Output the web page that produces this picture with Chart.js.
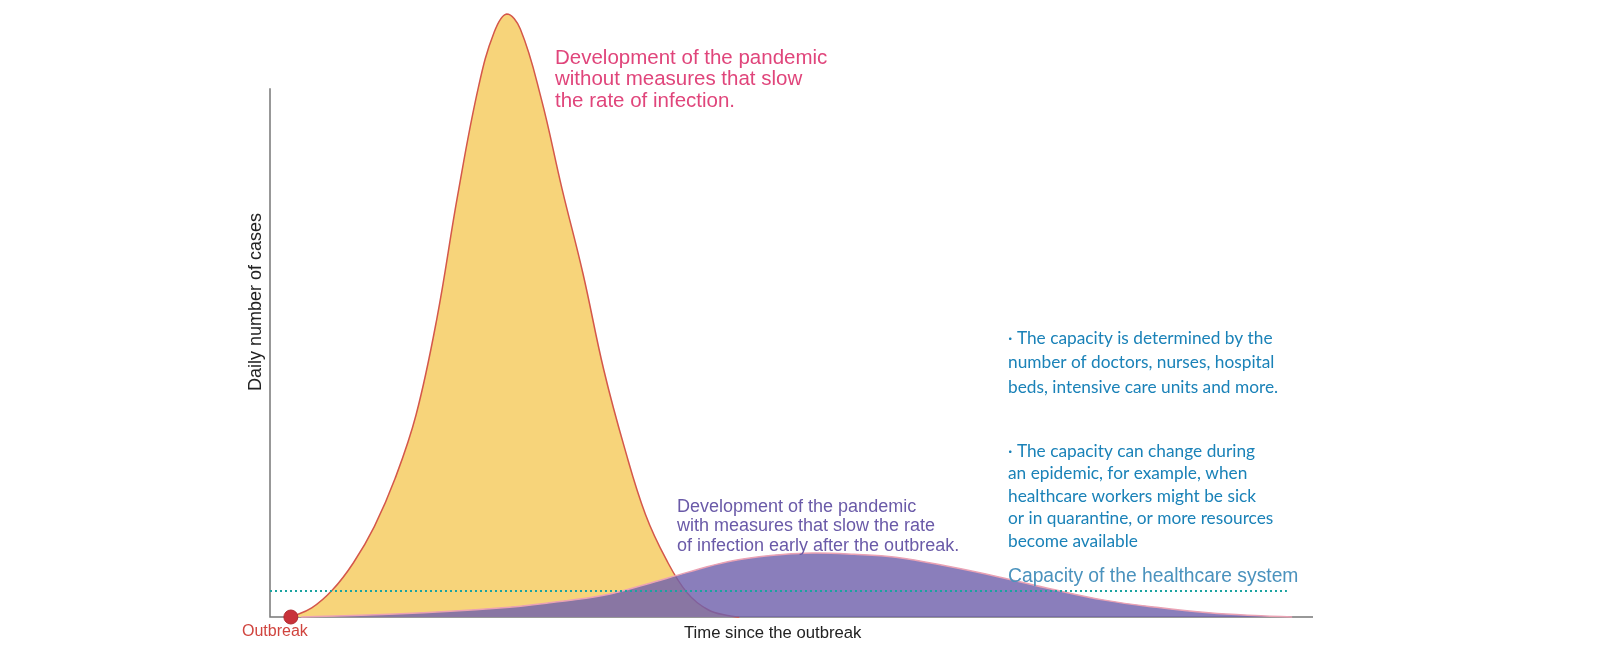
<!DOCTYPE html>
<html><head><meta charset="utf-8">
<script src="https://cdn.jsdelivr.net/npm/chart.js@4"></script>
<style>html,body{margin:0;padding:0;background:#fff}canvas{display:block}</style>
</head><body><canvas id="c" width="1600" height="670"></canvas>
<script>
const xNoMeasures = [2,4,6,8,10,12,14,16,18,20,21.5,22.7,24,26,28,30,32,34,36,38,40,42,44,45];
const yNoMeasures = [0,1.5,4.5,9,15,23,33.5,49.5,70,88,97,100,97.5,86,71,57,41,28,17,9.5,4,1.2,0.2,0];
const xMeasures = [3,12,22,27,32,36,40,44,48,52,56,60,65,70,75,80,85,90,95,98];
const yMeasures = [0,0.5,1.5,2.4,3.6,5.4,7.4,9.2,10.2,10.6,10.4,9.9,8.4,6.6,4.6,2.8,1.6,0.7,0.2,0];
const capacity = 4.3;
const capacityRange = [0, 97.5];
const outbreak = {x: 2, y: 0};
const yAxisTop = 87.7;

const zip = (xs, ys) => xs.map((x, i) => ({x, y: ys[i]}));

const texts = [
  {lines:["Development of the pandemic","without measures that slow","the rate of infection."], x:555, y:58, lh:21.5, font:"20.5px 'Liberation Sans', Arial", color:"#e0457b"},
  {lines:["Development of the pandemic","with measures that slow the rate","of infection early after the outbreak."], x:677, y:507, lh:19.5, font:"18px 'Liberation Sans', Arial", color:"#6a5aa8"},
  {lines:["· The capacity is determined by the","number of doctors, nurses, hospital","beds, intensive care units and more."], x:1008, y:338, lh:24.5, font:"17.3px Lato", color:"#1a82b8"},
  {lines:["· The capacity can change during","an epidemic, for example, when","healthcare workers might be sick","or in quarantine, or more resources","become available"], x:1008, y:451, lh:22.6, font:"17.3px Lato", color:"#1a82b8"},
  {lines:["Capacity of the healthcare system"], x:1008, y:577, lh:20, font:"19.3px 'Liberation Sans', Arial", color:"#4a92bd"},
  {lines:["Outbreak"], x:242, y:632, lh:16, font:"16px 'Liberation Sans', Arial", color:"#d0443e"},
  {lines:["Time since the outbreak"], x:684, y:633, lh:16, font:"16.7px 'Liberation Sans', Arial", color:"#222"}
];

const deco = {
  id:'deco',
  beforeDatasetsDraw(chart){
    const {ctx, chartArea:a, scales:{x,y}} = chart;
    ctx.save();
    ctx.strokeStyle = '#777'; ctx.lineWidth = 1.5;
    ctx.beginPath();
    ctx.moveTo(x.getPixelForValue(0), y.getPixelForValue(yAxisTop));
    ctx.lineTo(x.getPixelForValue(0), y.getPixelForValue(0));
    ctx.lineTo(a.right, y.getPixelForValue(0));
    ctx.stroke();
    ctx.restore();
  },
  afterDraw(chart){
    const ctx = chart.ctx;
    ctx.save();
    ctx.textBaseline = 'middle';
    for (const t of texts){
      ctx.font = t.font; ctx.fillStyle = t.color;
      t.lines.forEach((l,i)=>ctx.fillText(l, t.x, t.y + i*t.lh));
    }
    ctx.translate(256, 302); ctx.rotate(-Math.PI/2);
    ctx.font = "18px 'Liberation Sans', Arial"; ctx.fillStyle = '#222'; ctx.textAlign='center';
    ctx.fillText('Daily number of cases', 0, 0);
    ctx.restore();
  }
};

new Chart(document.getElementById('c'), {
  type:'line',
  data:{datasets:[
    {data: zip(xNoMeasures, yNoMeasures), borderColor:'#d4574a', borderWidth:1.5, backgroundColor:'#f7d47a', fill:'origin', pointRadius:0, tension:0.4, order:3},
    {data: zip(xMeasures, yMeasures), borderColor:'#eaa2b4', borderWidth:1.5, backgroundColor:'rgba(112,98,172,0.82)', fill:'origin', pointRadius:0, tension:0.4, order:2},
    {data: capacityRange.map(v=>({x:v, y:capacity})), borderColor:'#1aa3a0', borderWidth:2, borderDash:[2,3], pointRadius:0, fill:false, order:1},
    {data:[outbreak], pointRadius:7, pointBackgroundColor:'#c8323a', pointBorderColor:'#b02a30', showLine:false, order:0}
  ]},
  options:{
    responsive:false, animation:false,
    layout:{padding:{left:270, right:287, top:14, bottom:53}},
    plugins:{legend:{display:false}, tooltip:{enabled:false}},
    elements:{point:{hoverRadius:0}},
    clip:false,
    scales:{
      x:{type:'linear', min:0, max:100, display:false},
      y:{min:0, max:100, display:false}
    }
  },
  plugins:[deco]
});
</script></body></html>
